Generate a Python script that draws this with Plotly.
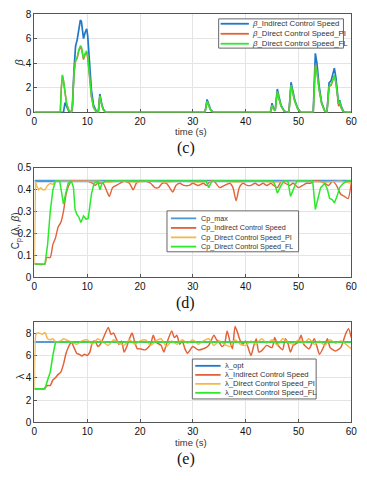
import plotly.graph_objects as go

# the page adds an 8 px body margin, so the figure is drawn 8 px smaller
# and every reference pixel position is shifted by that amount
OFF = 8
W, H = 367 - OFF, 480 - OFF

# ---------------- data ----------------
# (c) pitch angle beta
t_beta = [0, 4.9, 5.1, 5.3, 5.5, 5.8, 6.1, 6.5, 7.0, 7.2, 7.5, 7.8, 8.1, 8.4, 8.7, 8.9,
          9.1, 9.3, 9.6, 9.9, 10.1, 10.4, 10.8, 11.2, 11.7, 12.1, 12.4, 12.7, 13.0, 13.5,
          32.3, 32.7, 33.0, 33.4, 33.9, 44.7, 45.0, 45.3, 45.6, 46.0, 46.3, 46.7, 47.3,
          48.2, 48.6, 48.9, 49.3, 49.9, 50.5, 52.8, 53.2, 53.5, 53.9, 54.4, 55.0, 55.4,
          55.8, 56.2, 56.5, 56.8, 57.1, 57.4, 57.6, 57.8, 58.1, 58.5, 59.0, 60]
beta_indirect = [0, 0, 0, 0, 0, 0.8, 0.5, 0.1, 0, 0.5, 3.5, 5.4, 5.9, 6.8, 7.5, 7.4,
                 6.6, 6.0, 6.5, 6.8, 6.2, 4.0, 1.8, 0.6, 0.1, 0, 1.5, 0.8, 0.3, 0,
                 0, 1.05, 0.6, 0.2, 0, 0, 0.75, 0.3, 0.2, 1.9, 1.3, 0.6, 0.1,
                 0, 2.45, 1.9, 1.0, 0.3, 0, 0, 4.8, 4.0, 2.2, 0.8, 0.1, 0,
                 2.4, 2.6, 3.2, 3.6, 2.8, 1.2, 0.7, 1.0, 0.5, 0.1, 0, 0]
beta_pi = [0, 0, 2.0, 3.0, 2.6, 1.4, 0.7, 0.2, 0, 0.5, 3.2, 4.2, 4.4, 5.0, 5.3, 5.2,
           4.6, 4.3, 4.7, 4.9, 4.4, 3.0, 1.3, 0.4, 0.05, 0, 1.35, 0.7, 0.25, 0,
           0, 0.9, 0.5, 0.15, 0, 0, 0.6, 0.25, 0.15, 1.7, 1.15, 0.5, 0.1,
           0, 2.2, 1.7, 0.9, 0.25, 0, 0, 3.9, 3.3, 1.9, 0.7, 0.1, 0,
           2.1, 2.2, 2.7, 3.0, 2.4, 1.0, 0.5, 0.75, 0.35, 0.05, 0, 0]
beta_fl = [0, 0, 2.0, 3.05, 2.6, 1.4, 0.7, 0.2, 0, 0.5, 3.2, 4.2, 4.5, 5.1, 5.4, 5.35,
           4.8, 4.4, 4.8, 5.0, 4.6, 3.1, 1.3, 0.4, 0.05, 0, 1.35, 0.7, 0.25, 0,
           0, 0.9, 0.5, 0.15, 0, 0, 0.6, 0.25, 0.15, 1.7, 1.15, 0.5, 0.1,
           0, 2.2, 1.7, 0.9, 0.25, 0, 0, 3.8, 3.3, 1.9, 0.7, 0.1, 0,
           2.1, 2.3, 2.7, 3.0, 2.4, 1.0, 0.7, 0.9, 0.4, 0.05, 0, 0]

# (d) power coefficient Cp
t_cpmax = [0, 60]
cp_max = [0.44, 0.44]
t_cp_ind = [0, 2.0, 2.3, 3.0, 3.5, 4.0, 4.5, 5.0, 5.5, 6.0, 6.5, 7.0, 8, 9, 10, 11, 11.5,
            12, 13, 13.6, 14.2, 14.8, 15.5, 16.2, 17, 18, 18.7, 19.3, 20, 21, 22, 22.8,
            23.5, 24.2, 25, 25.6, 26.2, 26.8, 27.5, 28.3, 29.3, 30, 31, 32, 32.6, 33.3,
            34, 35.1, 36, 37, 37.6, 38.2, 38.8, 39.5, 40.3, 41, 41.8, 42.5, 43.3, 44,
            44.8, 45.3, 46, 46.8, 47.5, 48.3, 49, 50, 50.8, 51.5, 52.3, 53, 54, 55,
            55.7, 56.5, 57.2, 58, 58.7, 59.4, 60]
cp_ind = [0.06, 0.06, 0.09, 0.09, 0.15, 0.18, 0.23, 0.25, 0.30, 0.38, 0.42, 0.44, 0.44,
          0.44, 0.44, 0.43, 0.42, 0.43, 0.43, 0.40, 0.37, 0.41, 0.42, 0.43, 0.44, 0.43,
          0.40, 0.43, 0.44, 0.44, 0.43, 0.41, 0.41, 0.43, 0.43, 0.41, 0.39, 0.42, 0.43,
          0.42, 0.42, 0.43, 0.42, 0.43, 0.42, 0.44, 0.44, 0.41, 0.42, 0.43, 0.41, 0.35,
          0.41, 0.43, 0.42, 0.42, 0.43, 0.42, 0.43, 0.42, 0.43, 0.42, 0.41, 0.44, 0.43,
          0.42, 0.43, 0.41, 0.42, 0.43, 0.43, 0.44, 0.44, 0.43, 0.42, 0.44, 0.42, 0.38,
          0.37, 0.36, 0.43]
t_cp_pi = [0, 0.2, 0.4, 0.8, 1.2, 1.6, 2.0, 2.5, 3.0, 3.5, 4.0, 12, 14, 16, 19, 22, 25,
           28, 31, 35, 38, 42, 45, 50, 55, 58, 60]
cp_pi = [0.06, 0.44, 0.42, 0.40, 0.41, 0.40, 0.40, 0.42, 0.43, 0.425, 0.44, 0.44, 0.435,
         0.44, 0.435, 0.44, 0.435, 0.44, 0.435, 0.44, 0.435, 0.44, 0.435, 0.44, 0.435,
         0.44, 0.43]
t_cp_fl = [0, 2.0, 2.5, 3.0, 3.5, 4.0, 4.8, 5.1, 5.5, 6.0, 6.4, 7.0, 7.4, 7.7, 8.0, 8.4,
           8.8, 9.3, 9.8, 10.2, 10.8, 11.3, 12.0, 12.4, 12.8, 13.5, 32.5, 33.0, 33.6,
           45.2, 45.6, 46.0, 46.7, 47.3, 48.0, 48.5, 49.0, 49.7, 52.7, 53.2, 53.7, 54.2,
           55.0, 55.5, 55.9, 56.4, 56.8, 57.3, 57.8, 58.5, 59.2, 60]
cp_fl = [0.06, 0.06, 0.15, 0.30, 0.40, 0.44, 0.44, 0.40, 0.335, 0.39, 0.43, 0.44, 0.41,
         0.31, 0.29, 0.275, 0.25, 0.28, 0.265, 0.27, 0.38, 0.43, 0.44, 0.40, 0.43, 0.44,
         0.44, 0.41, 0.44, 0.44, 0.42, 0.385, 0.42, 0.44, 0.44, 0.37, 0.40, 0.44, 0.44,
         0.31, 0.36, 0.41, 0.43, 0.40, 0.36, 0.355, 0.34, 0.37, 0.41, 0.43, 0.44, 0.44]

# (e) tip speed ratio lambda
t_lopt = [0, 60]
lam_opt = [7.2, 7.2]
t_lam_ind = [0, 1.8, 2.0, 2.5, 3.0, 3.5, 4.0, 4.5, 5.0, 5.5, 6.0, 6.5, 7.0, 7.5, 8.0, 8.5,
             9.0, 9.5, 10.0, 10.5, 11.0, 11.5, 12.0, 12.5, 13.0, 14.0, 14.5, 15.0, 15.5,
             16.0, 16.5, 17.0, 17.5, 18.0, 18.5, 19.0, 19.5, 20.0, 21.0, 22.0, 22.5, 23.0,
             24.0, 24.5, 25.0, 26.0, 26.5, 27.0, 27.5, 28.0, 28.5, 29.0, 30.0, 31.0, 32.0,
             33.0, 34.0, 34.5, 35.0, 35.5, 36.0, 36.5, 37.0, 37.5, 38.0, 38.5, 39.0, 39.5,
             40.0, 41.0, 41.5, 42.0, 42.5, 43.0, 44.0, 45.0, 45.5, 46.0, 47.0, 47.5, 48.0,
             48.5, 49.0, 50.0, 50.5, 51.0, 52.0, 53.0, 53.5, 54.0, 55.0, 55.5, 56.0, 57.0,
             58.0, 58.5, 59.0, 59.5, 60.0]
lam_ind = [3.0, 3.0, 3.1, 3.3, 3.3, 3.8, 4.0, 4.3, 4.5, 5.2, 6.2, 6.8, 7.2, 6.7, 6.2, 6.1,
           5.95, 6.1, 6.0, 6.3, 7.2, 7.3, 6.8, 7.0, 7.5, 8.5, 7.9, 8.0, 7.5, 7.0, 7.3, 6.3,
           6.8, 7.5, 8.0, 7.2, 6.6, 6.6, 6.5, 7.0, 7.8, 7.2, 6.9, 6.3, 7.0, 8.2, 7.6, 7.8,
           7.0, 7.3, 6.6, 6.2, 6.8, 6.5, 6.6, 6.9, 7.8, 7.4, 7.2, 6.8, 7.0, 8.2, 7.3, 6.6,
           8.6, 8.0, 7.3, 7.0, 7.3, 6.0, 6.8, 7.5, 6.3, 6.4, 6.9, 6.7, 7.6, 7.0, 6.5, 7.5,
           7.1, 6.3, 6.9, 7.2, 7.8, 7.0, 6.6, 7.5, 6.8, 6.1, 7.0, 7.5, 6.7, 6.4, 6.7, 7.3,
           8.0, 8.4, 7.6]
t_lam_pi = [0, 0.25, 0.5, 1.0, 1.5, 2.0, 2.5, 3.0, 3.5, 4.0, 5.0, 5.5, 6.0, 7.0,
            8, 9, 10, 11, 12, 13, 14, 15, 16, 17, 18, 19, 20, 21, 22, 23, 24, 25, 26, 27,
            28, 29, 30, 31, 32, 33, 34, 35, 36, 37, 38, 39, 40, 41, 42, 43, 44, 45, 46,
            47, 48, 49, 50, 51, 52, 53, 54, 55, 56, 57, 58, 59, 60]
lam_pi = [3.0, 7.8, 8.0, 8.0, 7.9, 8.05, 7.5, 7.4, 7.5, 7.2, 7.3, 7.5, 7.4, 7.2,
          7.0, 7.3, 7.4, 7.0, 7.5, 7.2, 6.9, 7.4, 7.1, 6.9, 7.4, 7.0, 7.3, 7.4, 6.9, 7.3,
          7.5, 6.8, 7.3, 7.0, 7.4, 7.1, 7.4, 7.0, 7.3, 7.5, 6.9, 7.3, 7.0, 6.8, 7.4, 7.0,
          6.9, 7.3, 7.0, 7.5, 7.1, 7.4, 6.9, 7.5, 7.2, 7.0, 7.4, 7.1, 7.5, 7.0, 7.3, 6.9,
          7.4, 7.1, 7.3, 7.0, 6.6]
t_lam_fl = [0, 1.8, 2.0, 2.5, 3.0, 3.5, 3.8, 4.0, 60]
lam_fl = [3.0, 3.0, 3.0, 3.8, 4.5, 6.0, 7.0, 7.2, 7.2]

# ---------------- styling ----------------
BLUE = "#1f78c8"
BLUE_L = "#4a97dc"
ORANGE = "#e2633a"
YELLOW = "#f2b84b"
GREEN = "#2ee82e"
FONT = "Liberation Sans, Arial, sans-serif"
SERIF = "Liberation Serif, Times New Roman, serif"


# reference pixel position -> paper coordinate (clamped to the page)
def px(x):
    return min(max((x - OFF) / W, 0), 1)


def py(y):
    return min(max(1 - (y - OFF) / H, 0), 1)


# plot boxes in reference pixels: (top, bottom)
boxes = {"": (8, 109), "2": (166, 278), "3": (324, 427)}
X0, X1 = 32, 357

fig = go.Figure()

panels = [
    ("", [(t_beta, beta_indirect, BLUE, 1.7, "linear"),
          (t_beta, beta_pi, ORANGE, 1.5, "linear"),
          (t_beta, beta_fl, GREEN, 1.5, "linear")]),
    ("2", [(t_cpmax, cp_max, BLUE_L, 2.5, "linear"),
           (t_cp_ind, cp_ind, ORANGE, 1.4, "spline"),
           (t_cp_pi, cp_pi, YELLOW, 1.4, "linear"),
           (t_cp_fl, cp_fl, GREEN, 1.5, "linear")]),
    ("3", [(t_lopt, lam_opt, BLUE, 1.6, "linear"),
           (t_lam_ind, lam_ind, ORANGE, 1.5, "spline"),
           (t_lam_pi, lam_pi, YELLOW, 1.5, "spline"),
           (t_lam_fl, lam_fl, GREEN, 1.6, "linear")]),
]

for ax, series in panels:
    for t, v, c, w, shape in series:
        fig.add_trace(go.Scatter(x=t, y=v, mode="lines", xaxis="x" + ax, yaxis="y" + ax,
                                 line=dict(color=c, width=w, shape=shape, smoothing=0.6),
                                 showlegend=False, hoverinfo="skip"))

axis_common = dict(showline=True, mirror=True, linecolor="#555", linewidth=1,
                   ticks="inside", ticklen=3, tickcolor="#555", showgrid=True,
                   gridcolor="#e4e4e4", zeroline=False, layer="below traces",
                   tickfont=dict(family=FONT, size=10, color="#111"))

yranges = {"": ([0, 8], 2), "2": ([0, 0.5], 0.1), "3": ([0, 9], 2)}
layout = {}
for ax, (top, bot) in boxes.items():
    layout["xaxis" + ax] = dict(axis_common, domain=[px(X0), px(X1)], range=[0, 60],
                                dtick=10, anchor="y" + ax)
    rng, dt = yranges[ax]
    layout["yaxis" + ax] = dict(axis_common, domain=[py(bot), py(top)], range=rng,
                                dtick=dt, anchor="x" + ax, tick0=0)
fig.update_layout(**layout)

shapes = []
annotations = []


def legend(x0, x1, y0, y1, rows, line_x0, line_x1, text_x, entries, fsize):
    shapes.append(dict(type="rect", xref="paper", yref="paper", x0=px(x0), x1=px(x1),
                       y0=py(y1), y1=py(y0), line=dict(color="#666", width=1),
                       fillcolor="white", layer="above"))
    for yy, (name, col) in zip(rows, entries):
        shapes.append(dict(type="line", xref="paper", yref="paper", x0=px(line_x0),
                           x1=px(line_x1), y0=py(yy), y1=py(yy),
                           line=dict(color=col, width=1.8), layer="above"))
        annotations.append(dict(text=name, xref="paper", yref="paper", x=px(text_x),
                                y=py(yy), xanchor="left", yanchor="middle",
                                showarrow=False,
                                font=dict(family=FONT, size=fsize, color="#333")))


legend(221, 349, 13, 43, [18, 28.3, 38.5], 223, 252, 253,
       [("<i>β</i>_Indirect Control Speed", BLUE),
        ("<i>β</i>_Direct Control Speed_PI", ORANGE),
        ("<i>β</i>_Direct Control Speed_FL", GREEN)], 7.8)
legend(168, 303, 210, 252, [217.7, 227.5, 237.2, 246.7], 172, 198, 201,
       [("Cp_max", BLUE_L),
        ("Cp_Indirect Control Speed", ORANGE),
        ("Cp_Direct Control Speed_PI", YELLOW),
        ("Cp_Direct Control Speed_FL", GREEN)], 7.2)
legend(194, 321, 362, 403, [369, 378.3, 387.5, 396.7], 197, 223, 225,
       [("λ_opt", BLUE),
        ("λ_Indirect Control Speed", ORANGE),
        ("λ_Direct Control Speed_PI", YELLOW),
        ("λ_Direct Control Speed_FL", GREEN)], 7.6)


def label(text, x, y, size, family=FONT, angle=0, color="#333"):
    annotations.append(dict(text=text, xref="paper", yref="paper", x=px(x), y=py(y),
                            xanchor="center", yanchor="middle", showarrow=False,
                            textangle=angle, font=dict(family=family, size=size,
                                                       color=color)))


label("<i>β</i>", 16, 58, 11, angle=-90)
label("C<sub>p</sub> (λ, <i>β</i>)", 13, 230, 10, angle=-90)
label("λ", 17, 380, 11, angle=-90)
label("time (s)", 193, 129, 9.5)
label("time (s)", 193, 448, 9.5)
label("(c)", 187, 146, 16, family=SERIF, color="#111")
label("(d)", 187, 305, 16, family=SERIF, color="#111")
label("(e)", 187, 465, 16, family=SERIF, color="#111")

fig.update_layout(width=W, height=H, margin=dict(l=0, r=0, t=0, b=0),
                  paper_bgcolor="white", plot_bgcolor="white", showlegend=False,
                  shapes=shapes, annotations=annotations)

fig.write_html("out.html")
